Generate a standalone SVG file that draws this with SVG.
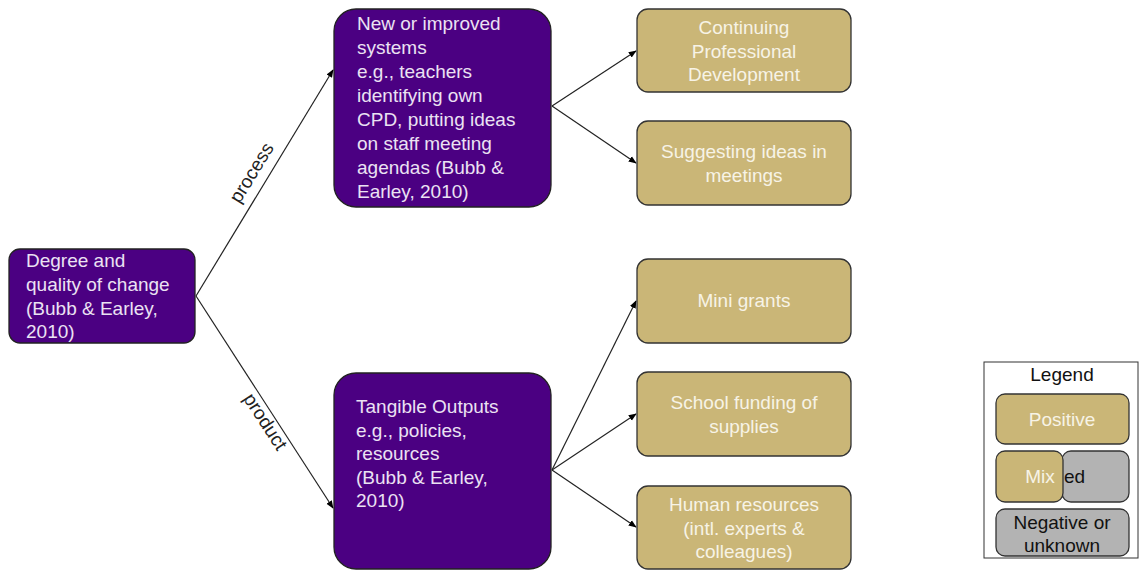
<svg xmlns="http://www.w3.org/2000/svg" width="1139" height="570" viewBox="0 0 1139 570">
  <defs>
    <marker id="arrow" viewBox="0 0 10 10" refX="9" refY="5" markerWidth="8" markerHeight="8" markerUnits="userSpaceOnUse" orient="auto">
      <path d="M0,1 L10,5 L0,9 z" fill="#000"/>
    </marker>
    <style>
      text { font-family: "Liberation Sans", Arial, sans-serif; font-size: 19px; }
      .purple { fill: #4b0082; stroke: #222; stroke-width: 1.3; }
      .gold { fill: #cab677; stroke: #333; stroke-width: 1.3; }
      .grey { fill: #b3b3b3; stroke: #333; stroke-width: 1.3; }
      .ptext { fill: #ebe2f3; }
      .gtext { fill: #f7f3e6; text-anchor: middle; }
      .dtext { fill: #111; }
      .edge { fill: none; stroke: #222; stroke-width: 1.2; marker-end: url(#arrow); }
      .elabel { fill: #222; text-anchor: middle; }
    </style>
  </defs>

  <!-- connectors -->
  <g id="connectors">
    <line class="edge" x1="196" y1="296" x2="333" y2="70"/>
    <line class="edge" x1="196" y1="296" x2="333" y2="508"/>
    <line class="edge" x1="552" y1="106" x2="636" y2="51"/>
    <line class="edge" x1="552" y1="106" x2="636" y2="163"/>
    <line class="edge" x1="552" y1="470" x2="636" y2="301"/>
    <line class="edge" x1="552" y1="470" x2="636" y2="414"/>
    <line class="edge" x1="552" y1="470" x2="636" y2="527"/>
    <text class="elabel" transform="translate(257,176) rotate(-58.5)">process</text>
    <text class="elabel" transform="translate(260,425) rotate(57)">product</text>
  </g>

  <!-- root -->
  <g id="node-degree">
    <rect class="purple" x="9" y="249" width="186" height="94" rx="11"/>
    <text class="ptext" x="26" y="267">Degree and</text>
    <text class="ptext" x="26" y="291">quality of change</text>
    <text class="ptext" x="26" y="315">(Bubb &amp; Earley,</text>
    <text class="ptext" x="26" y="338">2010)</text>
  </g>

  <g id="node-systems">
    <rect class="purple" x="334" y="9" width="217" height="198" rx="22"/>
    <text class="ptext" x="357" y="30">New or improved</text>
    <text class="ptext" x="357" y="54">systems</text>
    <text class="ptext" x="357" y="78">e.g., teachers</text>
    <text class="ptext" x="357" y="102">identifying own</text>
    <text class="ptext" x="357" y="126">CPD, putting ideas</text>
    <text class="ptext" x="357" y="150">on staff meeting</text>
    <text class="ptext" x="357" y="174">agendas (Bubb &amp;</text>
    <text class="ptext" x="357" y="198">Earley, 2010)</text>
  </g>

  <g id="node-outputs">
    <rect class="purple" x="334" y="373" width="217" height="196" rx="22"/>
    <text class="ptext" x="356" y="413">Tangible Outputs</text>
    <text class="ptext" x="356" y="437">e.g., policies,</text>
    <text class="ptext" x="356" y="460">resources</text>
    <text class="ptext" x="356" y="484">(Bubb &amp; Earley,</text>
    <text class="ptext" x="356" y="507">2010)</text>
  </g>

  <g id="node-cpd">
    <rect class="gold" x="637" y="9" width="214" height="83" rx="11"/>
    <text class="gtext" x="744" y="34">Continuing</text>
    <text class="gtext" x="744" y="58">Professional</text>
    <text class="gtext" x="744" y="81">Development</text>
  </g>

  <g id="node-ideas">
    <rect class="gold" x="637" y="121" width="214" height="84" rx="11"/>
    <text class="gtext" x="744" y="158">Suggesting ideas in</text>
    <text class="gtext" x="744" y="182">meetings</text>
  </g>

  <g id="node-grants">
    <rect class="gold" x="637" y="259" width="214" height="84" rx="11"/>
    <text class="gtext" x="744" y="307">Mini grants</text>
  </g>

  <g id="node-funding">
    <rect class="gold" x="637" y="372" width="214" height="84" rx="11"/>
    <text class="gtext" x="744" y="409">School funding of</text>
    <text class="gtext" x="744" y="433">supplies</text>
  </g>

  <g id="node-human">
    <rect class="gold" x="637" y="486" width="214" height="83" rx="11"/>
    <text class="gtext" x="744" y="511">Human resources</text>
    <text class="gtext" x="744" y="535">(intl. experts &amp;</text>
    <text class="gtext" x="744" y="558">colleagues)</text>
  </g>

  <!-- legend -->
  <g id="legend">
    <rect x="984" y="362" width="154" height="196" fill="#fff" stroke="#333" stroke-width="1"/>
    <text class="dtext" x="1062" y="381" text-anchor="middle" font-size="18">Legend</text>
    <rect class="gold" x="996" y="394" width="133" height="50" rx="9"/>
    <text class="gtext" x="1062" y="426">Positive</text>
    <rect class="grey" x="1062" y="451" width="67" height="51" rx="9"/>
    <rect class="gold" x="996" y="451" width="67" height="51" rx="9"/>
    <text class="gtext" x="1040" y="483">Mix</text>
    <text class="dtext" x="1064" y="483">ed</text>
    <rect class="grey" x="996" y="509" width="133" height="47" rx="9"/>
    <text class="dtext" x="1062" y="529" text-anchor="middle">Negative or</text>
    <text class="dtext" x="1062" y="552" text-anchor="middle">unknown</text>
  </g>
</svg>
